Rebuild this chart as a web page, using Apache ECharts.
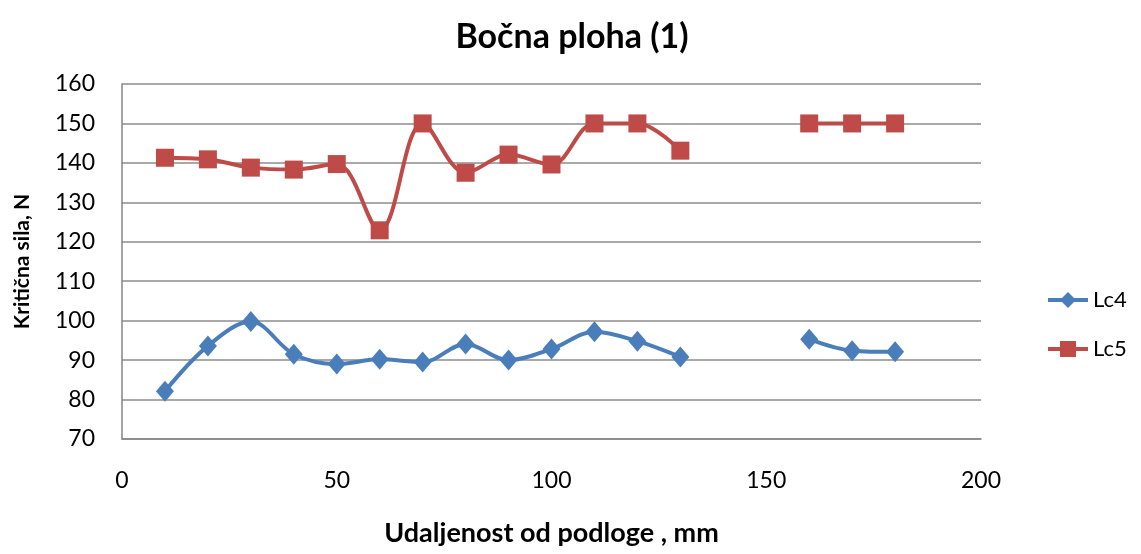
<!DOCTYPE html>
<html lang="hr">
<head>
    <meta charset="UTF-8">
    <title>Bočna ploha (1)</title>
    <script src="https://cdn.jsdelivr.net/npm/echarts@6/dist/echarts.min.js"></script>
</head>
<body style="margin:0">
<div id="chart" style="width:1141px;height:554px;"></div>
<script type="text/javascript">
    // udaljenost od podloge, mm (140 i 150 nemaju mjerenja)
    var udaljenost = [10, 20, 30, 40, 50, 60, 70, 80, 90, 100, 110, 120, 130, 140, 150, 160, 170, 180];
    var lc4 = [82.1, 93.6, 99.8, 91.5, 89.0, 90.2, 89.5, 94.1, 90.0, 92.8, 97.2, 94.8, 90.8, null, null, 95.3, 92.4, 92.1];
    var lc5 = [141.3, 140.9, 138.8, 138.3, 139.7, 122.9, 150.0, 137.5, 142.1, 139.6, 150.0, 150.0, 143.1, null, null, 150.0, 150.0, 150.0];

    function pairs(vals) {
        return udaljenost.map(function (x, i) {
            return [x, vals[i] === null ? '-' : vals[i]];
        });
    }

    var font = 'Lato, "Open Sans", sans-serif';
    var myChart = echarts.init(document.getElementById('chart'));

    var option = {
        animation: false,
        backgroundColor: '#fff',
        textStyle: {fontFamily: font},
        title: {
            text: 'Bočna ploha (1)',
            left: 567,
            top: 15,
            textAlign: 'center',
            textStyle: {fontFamily: font, fontSize: 34, fontWeight: 'bold', color: '#000'}
        },
        legend: {
            orient: 'vertical',
            left: 1041,
            top: 284,
            itemGap: 27,
            itemWidth: 40,
            itemHeight: 20,
            lineStyle: {width: 4},
            textStyle: {fontFamily: font, fontSize: 22, color: '#000'},
            data: ['Lc4', 'Lc5']
        },
        grid: {left: 122, right: 160, top: 84, bottom: 115},
        xAxis: {
            type: 'value',
            min: 0,
            max: 200,
            interval: 50,
            name: 'Udaljenost od podloge , mm',
            nameLocation: 'middle',
            nameGap: 81,
            nameTextStyle: {fontFamily: font, fontSize: 27, fontWeight: 'bold', color: '#000'},
            axisLine: {lineStyle: {color: '#868686', width: 1.5}},
            axisTick: {show: false},
            axisLabel: {fontFamily: font, fontSize: 23, color: '#000', margin: 30},
            splitLine: {show: false}
        },
        yAxis: {
            type: 'value',
            min: 70,
            max: 160,
            interval: 10,
            name: 'Kritična sila, N',
            nameLocation: 'middle',
            nameGap: 89,
            nameTextStyle: {fontFamily: font, fontSize: 21, fontWeight: 'bold', color: '#000'},
            axisLine: {show: true, lineStyle: {color: '#868686', width: 1.5}},
            axisTick: {show: false},
            axisLabel: {fontFamily: font, fontSize: 23, color: '#000', margin: 27},
            splitLine: {lineStyle: {color: '#8c8c8c', width: 1.5}}
        },
        series: [
            {
                name: 'Lc4',
                type: 'line',
                smooth: 0.35,
                connectNulls: false,
                symbol: 'diamond',
                symbolSize: [18, 21],
                color: '#4a7ebb',
                lineStyle: {width: 4, color: '#4a7ebb'},
                itemStyle: {color: '#4a7ebb'},
                data: pairs(lc4)
            },
            {
                name: 'Lc5',
                type: 'line',
                smooth: 0.35,
                connectNulls: false,
                symbol: 'rect',
                symbolSize: 18,
                color: '#be4b48',
                lineStyle: {width: 4, color: '#be4b48'},
                itemStyle: {color: '#be4b48'},
                data: pairs(lc5)
            }
        ]
    };
    myChart.setOption(option);
</script>
</body>
</html>
